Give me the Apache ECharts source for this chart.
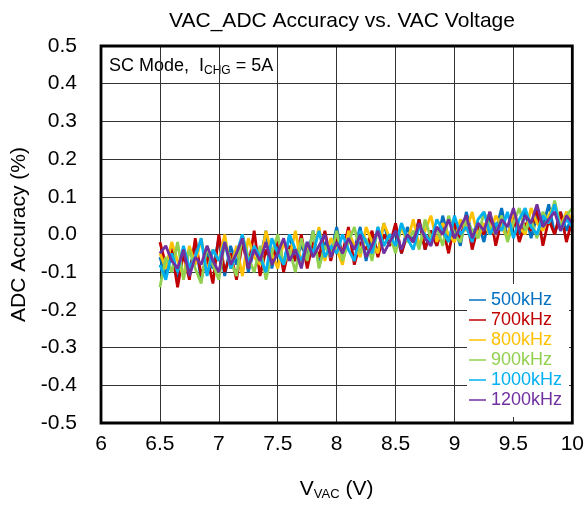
<!DOCTYPE html>
<html>
<head>
<meta charset="utf-8">
<script src="https://cdn.jsdelivr.net/npm/echarts@6/dist/echarts.min.js"></script>
<style>html,body{margin:0;padding:0;background:#fff;}#c{width:587px;height:506px;}</style>
</head>
<body>
<div id="c"></div>
<script>
var voltages = [6.5,6.55,6.6,6.65,6.7,6.75,6.8,6.85,6.9,6.95,
7,7.05,7.1,7.15,7.2,7.25,7.3,7.35,7.4,7.45,
7.5,7.55,7.6,7.65,7.7,7.75,7.8,7.85,7.9,7.95,
8,8.05,8.1,8.15,8.2,8.25,8.3,8.35,8.4,8.45,
8.5,8.55,8.6,8.65,8.7,8.75,8.8,8.85,8.9,8.95,
9,9.05,9.1,9.15,9.2,9.25,9.3,9.35,9.4,9.45,
9.5,9.55,9.6,9.65,9.7,9.75,9.8,9.85,9.9,9.95,10];

var seriesNames = ['500kHz','700kHz','800kHz','900kHz','1000kHz','1200kHz'];
var seriesColors = ['#0070C0','#C00000','#FFC000','#92D050','#00B0F0','#7030A0'];

var acc500 = [-0.06,-0.11,-0.03,-0.13,-0.04,-0.10,-0.02,-0.12,-0.05,-0.09,
-0.01,-0.11,-0.03,-0.08,0.00,-0.10,-0.04,-0.07,0.01,-0.09,
-0.02,-0.08,0.00,-0.07,-0.03,-0.06,0.01,-0.08,-0.02,-0.05,
0.02,-0.06,-0.01,-0.04,0.02,-0.07,0.00,-0.05,0.03,-0.03,
0.01,-0.05,0.02,-0.02,0.04,-0.04,0.01,-0.03,0.05,-0.01,
0.02,-0.03,0.06,0.00,0.03,-0.02,0.05,0.01,0.07,-0.01,
0.04,0.00,0.06,-0.01,0.05,0.02,0.08,0.00,0.06,0.01,0.05];

var acc700 = [-0.02,-0.08,-0.04,-0.14,-0.05,-0.12,-0.01,-0.11,-0.06,-0.13,
0.00,-0.10,-0.05,-0.12,-0.02,-0.09,0.01,-0.11,-0.04,-0.08,
-0.01,-0.10,-0.03,-0.07,0.00,-0.09,-0.02,-0.06,0.01,-0.07,
-0.01,-0.05,0.02,-0.08,-0.02,-0.04,0.01,-0.06,0.00,-0.03,
0.03,-0.05,0.00,-0.02,0.04,-0.04,0.01,-0.03,0.02,-0.05,
0.03,-0.01,0.05,-0.04,0.02,0.00,0.06,-0.03,0.04,-0.01,
0.05,-0.02,0.03,0.01,0.07,-0.03,0.04,0.00,0.06,-0.02,0.04];

var acc800 = [-0.05,-0.09,-0.02,-0.07,-0.11,-0.03,-0.08,-0.01,-0.10,-0.04,
-0.07,0.00,-0.09,-0.03,-0.11,-0.01,-0.06,-0.08,0.01,-0.05,
-0.09,-0.02,-0.06,0.01,-0.08,-0.03,-0.05,0.02,-0.07,-0.01,
-0.04,-0.08,0.01,-0.03,-0.06,0.02,-0.02,-0.05,0.03,-0.01,
-0.04,0.02,-0.02,0.04,-0.03,0.01,0.05,-0.02,0.03,0.00,
-0.02,0.04,0.01,0.06,-0.01,0.03,0.00,0.05,0.02,-0.01,
0.06,0.02,0.00,0.07,0.03,0.01,0.05,0.08,0.02,0.06,0.04];

var acc900 = [-0.14,-0.06,-0.10,-0.02,-0.12,-0.04,-0.09,-0.13,-0.03,-0.08,
-0.12,-0.02,-0.07,-0.11,0.00,-0.06,-0.10,-0.03,-0.12,-0.05,
0.00,-0.08,-0.04,-0.10,-0.01,-0.07,0.01,-0.09,-0.03,-0.06,
0.01,-0.07,-0.02,0.02,-0.05,-0.01,-0.07,0.02,-0.03,0.00,
-0.05,0.03,-0.02,0.01,-0.04,0.04,-0.01,0.02,-0.03,0.05,
0.00,-0.02,0.04,0.01,-0.01,0.06,0.02,0.00,0.05,-0.02,
0.03,0.07,0.01,0.04,-0.01,0.06,0.03,0.09,0.02,0.05,0.07];

var acc1000 = [-0.08,-0.12,-0.05,-0.10,-0.03,-0.09,-0.06,-0.01,-0.11,-0.04,
-0.07,-0.02,-0.09,-0.05,0.00,-0.08,-0.03,-0.06,-0.10,-0.01,
-0.05,-0.08,0.00,-0.04,-0.07,-0.02,-0.05,0.01,-0.06,-0.03,
-0.05,0.00,-0.04,-0.07,0.01,-0.02,-0.05,0.02,-0.03,0.00,
-0.03,0.03,-0.01,-0.04,0.02,0.00,-0.02,0.04,0.01,-0.02,
0.05,0.00,0.02,-0.02,0.04,0.06,0.00,0.03,0.01,0.06,
-0.01,0.04,0.07,0.02,0.00,0.05,0.03,0.08,0.01,0.04,0.02];

var acc1200 = [-0.05,-0.03,-0.07,-0.09,-0.04,-0.11,-0.06,-0.08,-0.03,-0.07,
-0.10,-0.02,-0.08,-0.05,-0.01,-0.09,-0.04,-0.07,-0.02,-0.08,
-0.05,-0.01,-0.07,-0.04,-0.09,-0.02,-0.06,-0.03,0.00,-0.06,
-0.02,-0.05,-0.01,-0.04,0.00,-0.06,-0.03,0.01,-0.05,-0.02,
0.01,-0.04,0.00,-0.02,0.03,-0.01,-0.03,0.02,0.00,0.04,
-0.01,0.02,0.05,-0.01,0.03,0.01,0.06,0.00,0.04,0.02,
0.07,0.01,0.05,0.03,0.08,0.02,0.04,0.06,0.01,0.05,0.03];

var allValues = [acc500, acc700, acc800, acc900, acc1000, acc1200];

var xTicks = {min: 6, max: 10, interval: 0.5};
var yTicks = {min: -0.5, max: 0.5, interval: 0.1};

var chart = echarts.init(document.getElementById('c'), null, {renderer: 'canvas'});
var FONT = 'Liberation Sans, Arial, sans-serif';

var series = seriesNames.map(function (n, k) {
  return {
    name: n,
    type: 'line',
    showSymbol: false,
    symbol: 'none',
    lineStyle: {width: 2.8, color: seriesColors[k]},
    itemStyle: {color: seriesColors[k]},
    z: 3 + k,
    data: voltages.map(function (v, i) { return [v, allValues[k][i]]; })
  };
});

chart.setOption({
  animation: false,
  backgroundColor: '#fff',
  title: {
    text: 'VAC_ADC Accuracy vs. VAC Voltage',
    left: 337, top: 6, textAlign: 'center',
    textStyle: {fontFamily: FONT, fontSize: 21, fontWeight: 'normal', color: '#000'}
  },
  grid: {left: 101, right: 11, top: 46, bottom: 82, show: true, borderColor: '#000', borderWidth: 2.8, backgroundColor: 'transparent', z: 10},
  xAxis: {
    type: 'value', min: xTicks.min, max: xTicks.max, interval: xTicks.interval,
    axisLine: {show: false}, axisTick: {show: false},
    splitLine: {show: true, lineStyle: {color: '#333', width: 1}},
    axisLabel: {fontFamily: FONT, fontSize: 21, color: '#000', margin: 11},
    name: '{a|V}{s|VAC}{a| (V)}', nameLocation: 'middle', nameGap: 55,
    nameTextStyle: {rich: {a: {fontFamily: FONT, fontSize: 21, color: '#000'}, s: {fontFamily: FONT, fontSize: 13, color: '#000', padding: [10, 0, 0, 0]}}}
  },
  yAxis: {
    type: 'value', min: yTicks.min, max: yTicks.max, interval: yTicks.interval,
    axisLine: {show: false}, axisTick: {show: false},
    splitLine: {show: true, lineStyle: {color: '#333', width: 1}},
    axisLabel: {fontFamily: FONT, fontSize: 21, color: '#000', margin: 24, formatter: function (v) { return v.toFixed(1); }},
    name: 'ADC Accuracy (%)', nameLocation: 'middle', nameGap: 68, nameRotate: 90,
    nameTextStyle: {fontFamily: FONT, fontSize: 21, color: '#000'}
  },
  legend: {
    orient: 'vertical', left: 467, top: 284,
    backgroundColor: '#fff', padding: [7, 7, 8, 2], itemGap: 2,
    itemWidth: 17, itemHeight: 1.5, icon: 'rect',
    textStyle: {fontFamily: FONT, fontSize: 18},
    z: 20,
    data: seriesNames.map(function (n, k) { return {name: n, itemStyle: {color: seriesColors[k]}, textStyle: {color: seriesColors[k]}}; })
  },
  graphic: [{
    type: 'group', left: 102, top: 53, z: 20,
    children: [
      {type: 'rect', shape: {x: 0, y: 0, width: 236, height: 29}, style: {fill: '#fff'}},
      {type: 'text', x: 7, y: 3, style: {
        text: '{a|SC Mode,  I}{s|CHG}{a| = 5A}',
        rich: {a: {fontFamily: FONT, fontSize: 18, fill: '#000'}, s: {fontFamily: FONT, fontSize: 12, fill: '#000', padding: [9, 0, 0, 0]}}
      }}
    ]
  }],
  series: series
});
</script>
</body>
</html>
